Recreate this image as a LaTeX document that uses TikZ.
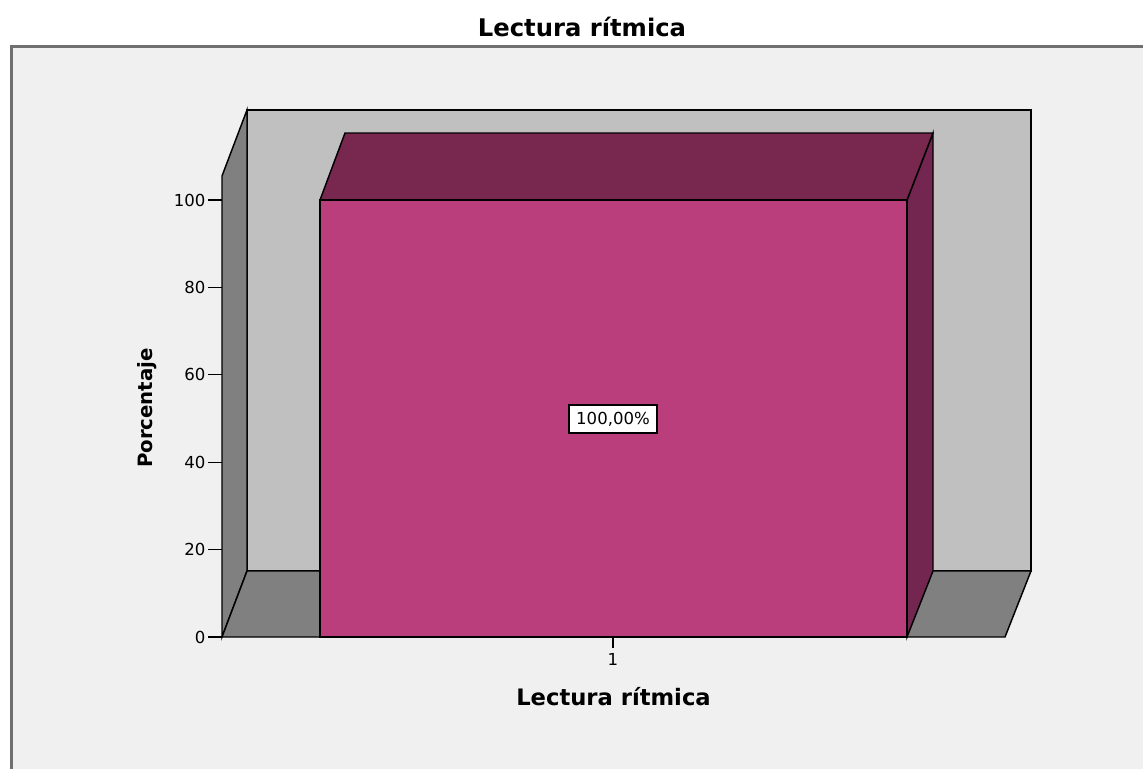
\documentclass[tikz,border=0pt]{standalone}
\usepackage{fontspec}
\setmainfont{DejaVu Sans}
\definecolor{panelbg}{HTML}{F0F0F0}
\definecolor{framegray}{HTML}{707070}
\definecolor{wallback}{HTML}{C0C0C0}
\definecolor{wallside}{HTML}{808080}
\definecolor{barfront}{HTML}{BA3E7C}
\definecolor{bartop}{HTML}{78274F}
\definecolor{barside}{HTML}{732650}
\begin{document}
\begin{tikzpicture}[x=0.75pt,y=-0.75pt,
  face/.style={draw=black,line width=1.1pt,line join=miter},
  ticklab/.style={font=\fontsize{12.4}{14}\selectfont,anchor=east,inner sep=0pt},
  boldlab/.style={font=\bfseries,inner sep=0pt}]
\useasboundingbox (0,0) rectangle (1143,768);
\fill[white] (0,0) rectangle (1143,768);
\fill[panelbg] (11,46) rectangle (1150,775);
\draw[framegray,line width=1.6pt] (11.5,775) -- (11.5,46.5) -- (1150,46.5);
% back wall
\path[face,fill=wallback] (247,110) rectangle (1031,571);
% left wall
\path[face,fill=wallside] (222,637) -- (222,176) -- (247,110) -- (247,571) -- cycle;
% floor
\path[face,fill=wallside] (222,637) -- (1005,637) -- (1031,571) -- (247,571) -- cycle;
% bar
\path[face,fill=barside] (907,200) -- (933,133) -- (933,571) -- (907,637) -- cycle;
\path[face,fill=bartop] (320,200) -- (345,133) -- (933,133) -- (907,200) -- cycle;
\path[face,fill=barfront] (320,200) rectangle (907,637);
% y ticks
\foreach \v in {0,20,40,60,80,100}{
  \coordinate (t\v) at (222,{637-4.37*\v});
  \draw[black,line width=1pt] (t\v) -- ++(-14,0) node[ticklab,xshift=-1.5pt] {\v};
}
% x tick
\coordinate (xt) at (613,637);
\draw[black,line width=1pt] (xt) -- ++(0,11) coordinate (xtend);
\node[ticklab,anchor=center] (xl1) at (613,659) {1};
% value label
\node[draw=black,fill=white,line width=0.8pt,inner sep=0pt,minimum width=66pt,minimum height=21pt,
  font=\fontsize{12.4}{14}\selectfont] (val) at (613,419) {100,00\%};
% titles
\node[boldlab,font=\fontsize{18.2}{20}\bfseries,anchor=base] (title) at (582,36) {Lectura rítmica};
\node[boldlab,font=\fontsize{17}{20}\bfseries,anchor=base] (xlab) at (613.5,705) {Lectura rítmica};
\node[boldlab,font=\fontsize{14.8}{18}\bfseries,anchor=base,rotate=90] (ylab) at (152,408) {Porcentaje};
\end{tikzpicture}
\end{document}
